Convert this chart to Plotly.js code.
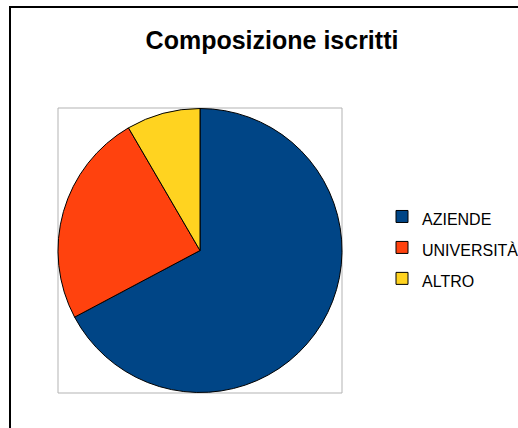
<!DOCTYPE html>
<html>
<head>
<meta charset="utf-8">
<script src="https://cdn.plot.ly/plotly-3.0.1.min.js"></script>
<style>html,body{margin:0;padding:0;background:#fff;}</style>
</head>
<body>
<div id="chart" style="width:518px;height:428px;"></div>
<script>
var labels = ["AZIENDE", "UNIVERSITÀ", "ALTRO"];
var values = [80, 29, 10];
var colors = ["#004586", "#ff420e", "#ffd320"];
var chartTitle = "Composizione iscritti";

var W = 518, H = 428;
function px(x) { return x / W; }
function py(y) { return 1 - y / H; }

var trace = {
  type: "pie",
  labels: labels.map(function (l) { return '<span style="font-size:16px">' + l + '</span>'; }),
  values: values,
  sort: false,
  direction: "clockwise",
  rotation: 0,
  textinfo: "none",
  hoverinfo: "label+value+percent",
  marker: { colors: colors, line: { color: "#000000", width: 1 } },
  domain: { x: [px(58), px(342)], y: [py(393), py(108)] }
};

var layout = {
  width: W, height: H,
  margin: { l: 0, r: 0, t: 0, b: 0, pad: 0, autoexpand: false },
  paper_bgcolor: "#ffffff",
  font: { family: "Liberation Sans, Arial, sans-serif", color: "#000000" },
  title: {
    text: chartTitle,
    font: { family: "Liberation Sans, Arial, sans-serif", size: 25, weight: "bold", color: "#000000" },
    x: px(272), xanchor: "center", xref: "paper",
    y: py(40), yanchor: "middle", yref: "paper"
  },
  showlegend: true,
  legend: {
    x: px(382), xanchor: "left",
    y: py(196), yanchor: "top",
    font: { size: 21.5, family: "Liberation Sans, Arial, sans-serif", color: "#000000" },
    bgcolor: "rgba(0,0,0,0)", borderwidth: 0,
    itemclick: false
  },
  shapes: [
    { type: "rect", xref: "paper", yref: "paper", x0: px(58), x1: px(342), y0: py(393), y1: py(108),
      line: { color: "#b3b3b3", width: 1 }, fillcolor: "rgba(0,0,0,0)", layer: "below" },
    { type: "rect", xref: "paper", yref: "paper", x0: px(10), x1: px(540), y0: py(450), y1: py(7),
      line: { color: "#000000", width: 2 }, fillcolor: "rgba(0,0,0,0)" }
  ]
};

Plotly.newPlot("chart", [trace], layout, { displayModeBar: false, staticPlot: true });
</script>
</body>
</html>
